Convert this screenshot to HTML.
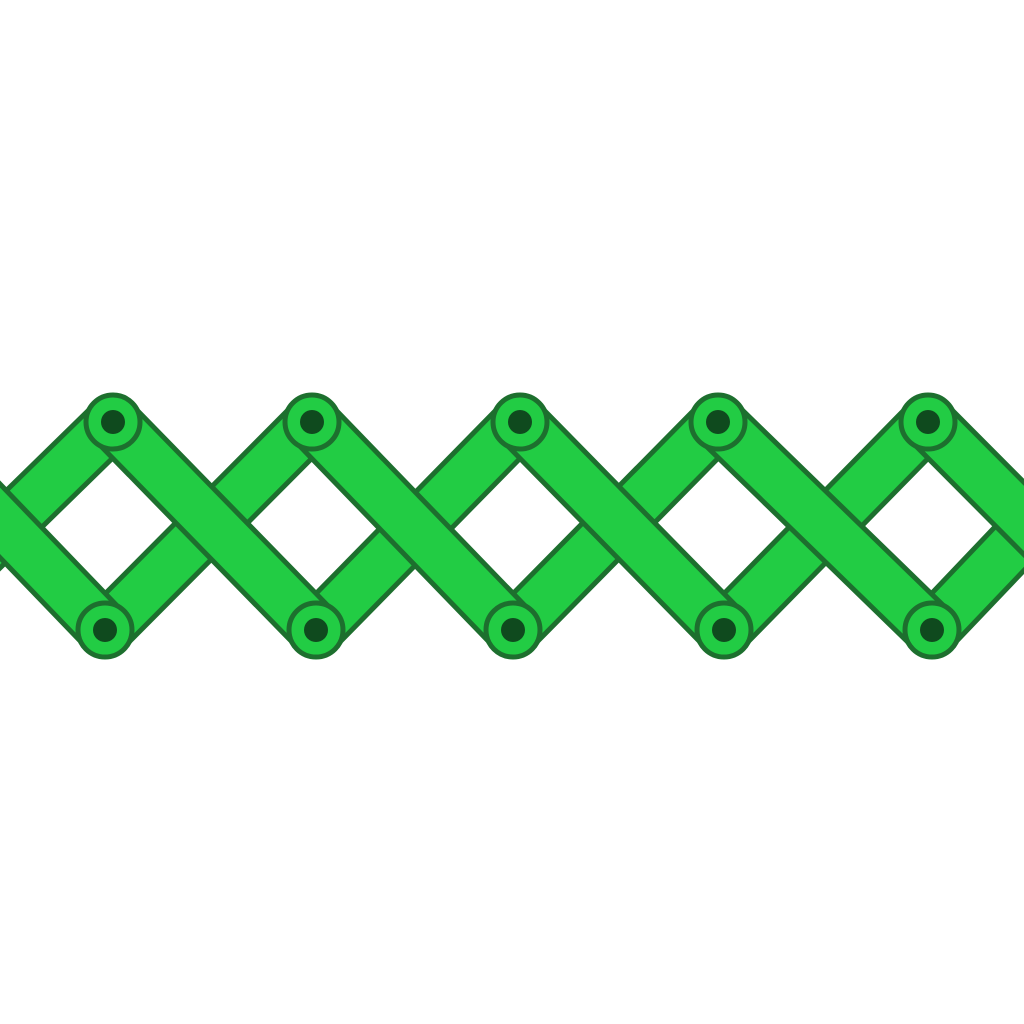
<!DOCTYPE html>
<html><head><meta charset="utf-8"><style>
html,body{margin:0;padding:0;background:#fff;width:1024px;height:1024px;overflow:hidden}
</style></head><body>
<svg id="s" width="1024" height="1024" viewBox="0 0 1024 1024"></svg>
<script>
const topX=[-95,113,312,520,718,928,1130];
const botX=[-100,105,316,513,724,932,1135];
const topY=422, botY=630;
const NS='http://www.w3.org/2000/svg';
const s=document.getElementById('s');
function bar(x1,y1,x2,y2,name){
  const g=document.createElementNS(NS,'g');
  
  
  const a=document.createElementNS(NS,'line');
  a.setAttribute('x1',x1);a.setAttribute('y1',y1);a.setAttribute('x2',x2);a.setAttribute('y2',y2);
  a.setAttribute('stroke','#1d6f2e');a.setAttribute('stroke-width','56');a.setAttribute('stroke-linecap','round');
  const b=a.cloneNode();b.setAttribute('stroke','#22cc44');b.setAttribute('stroke-width','46');
  g.appendChild(a);g.appendChild(b);s.appendChild(g);
}
// ascending bars (bottom i -> top i+1)
for(let i=0;i<topX.length-1;i++){bar(botX[i],botY,topX[i+1],topY,'ascending-bar');}
// descending bars (top i -> bottom i+1)
for(let i=0;i<topX.length-1;i++){bar(topX[i],topY,botX[i+1],botY,'descending-bar');}
function pivot(x,y){
  const g=document.createElementNS(NS,'g');
  
  
  const c=document.createElementNS(NS,'circle');
  c.setAttribute('cx',x);c.setAttribute('cy',y);c.setAttribute('r','27');
  c.setAttribute('fill','#22cc44');c.setAttribute('stroke','#1d6f2e');c.setAttribute('stroke-width','5');
  const d=document.createElementNS(NS,'circle');
  d.setAttribute('cx',x);d.setAttribute('cy',y);d.setAttribute('r','12');d.setAttribute('fill','#0f4a1e');
  g.appendChild(c);g.appendChild(d);s.appendChild(g);
}
for(let i=1;i<topX.length-1;i++){pivot(topX[i],topY);pivot(botX[i],botY);}
</script>
</body></html>
